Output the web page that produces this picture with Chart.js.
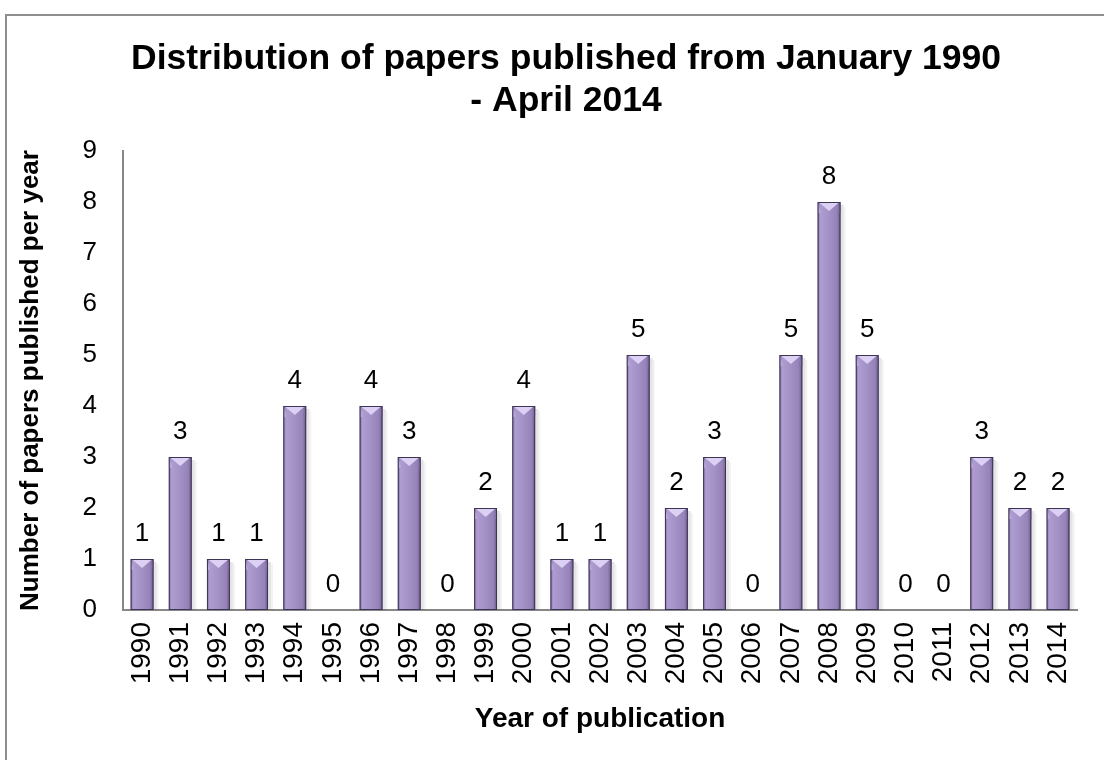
<!DOCTYPE html>
<html>
<head>
<meta charset="utf-8">
<title>Papers per year</title>
<script src="https://cdn.jsdelivr.net/npm/chart.js@4.4.1/dist/chart.umd.min.js"></script>
<style>
  html, body { margin: 0; padding: 0; background: #fff; }
  #wrap { width: 1104px; height: 760px; position: relative; }
</style>
</head>
<body>
<div id="wrap"><canvas id="chart" width="1104" height="760"></canvas></div>
<script>
// --- Data ---
const years = ['1990','1991','1992','1993','1994','1995','1996','1997','1998','1999',
  '2000','2001','2002','2003','2004','2005','2006','2007','2008','2009',
  '2010','2011','2012','2013','2014'];
const papers = [1, 3, 1, 1, 4, 0, 4, 3, 0, 2, 4, 1, 1, 5, 2, 3, 0, 5, 8, 5, 0, 0, 3, 2, 2];
const titleLines = ['Distribution of papers published from January 1990', '- April 2014'];
const yTitle = 'Number of papers published per year';
const xTitle = 'Year of publication';

const FONT = 'Arial, "Liberation Sans", sans-serif';
const AXIS_GREY = '#878787';

// frame around the whole chart (runs off the right and bottom edge) + the two-line title
const framePlugin = {
  id: 'frame',
  beforeDraw(chart) {
    const ctx = chart.ctx;
    ctx.save();
    ctx.strokeStyle = '#8e8e8e';
    ctx.lineWidth = 2;
    ctx.strokeRect(6, 15, 1200, 900);

    ctx.fillStyle = '#000';
    ctx.font = 'bold 35.5px ' + FONT;
    ctx.textAlign = 'center';
    ctx.textBaseline = 'alphabetic';
    titleLines.forEach((line, i) => ctx.fillText(line, 566, 69 + i * 42));
    ctx.restore();
  }
};

// bevelled purple bars + value labels on top
const bevelBars = {
  id: 'bevelBars',
  afterDatasetsDraw(chart) {
    const ctx = chart.ctx;
    const meta = chart.getDatasetMeta(0);
    meta.data.forEach((bar, i) => {
      const { x, y, base, width } = bar.getProps(['x', 'y', 'base', 'width'], true);
      const l = x - width / 2, r = x + width / 2;
      ctx.save();
      if (papers[i] > 0) {
        // soft shadow to the right
        ctx.fillStyle = 'rgba(0,0,0,0.10)';
        ctx.fillRect(r, y + 3, 3, base - y - 3);
        ctx.fillStyle = 'rgba(0,0,0,0.05)';
        ctx.fillRect(r + 3, y + 5, 2, base - y - 5);

        const g = ctx.createLinearGradient(l, 0, r, 0);
        g.addColorStop(0, '#7f6ea3');
        g.addColorStop(0.12, '#ae9dd0');
        g.addColorStop(0.5, '#a391c6');
        g.addColorStop(0.85, '#9482b8');
        g.addColorStop(1, '#665782');
        ctx.fillStyle = g;
        ctx.fillRect(l, y, width, base - y);

        // top bevel: light wedge pointing down
        const bev = Math.min(9, (base - y) / 2);
        ctx.fillStyle = '#b8a8da';
        ctx.beginPath();
        ctx.moveTo(l, y); ctx.lineTo(l + 3, y + bev); ctx.lineTo(l + 3, y + bev + 2); ctx.lineTo(l, y + bev + 2);
        ctx.closePath(); ctx.fill();
        ctx.fillStyle = '#8574a8';
        ctx.beginPath();
        ctx.moveTo(r, y); ctx.lineTo(r - 3, y + bev); ctx.lineTo(r - 3, y + bev + 2); ctx.lineTo(r, y + bev + 2);
        ctx.closePath(); ctx.fill();
        ctx.fillStyle = '#dcd0f4';
        ctx.beginPath();
        ctx.moveTo(l + 1, y); ctx.lineTo(r - 1, y); ctx.lineTo(x, y + bev);
        ctx.closePath(); ctx.fill();

        ctx.strokeStyle = '#3e3454';
        ctx.lineWidth = 1;
        ctx.strokeRect(l + 0.5, y + 0.5, width - 1, base - y - 1);
      }
      ctx.fillStyle = '#000';
      ctx.font = '26px ' + FONT;
      ctx.textAlign = 'center';
      ctx.textBaseline = 'alphabetic';
      ctx.fillText(String(papers[i]), x, y - 18);
      ctx.restore();
    });
  }
};

new Chart(document.getElementById('chart'), {
  type: 'bar',
  data: {
    labels: years,
    datasets: [{
      data: papers,
      backgroundColor: 'rgba(0,0,0,0)',
      borderWidth: 0,
      barPercentage: 0.6,
      categoryPercentage: 1.0
    }]
  },
  options: {
    responsive: false,
    animation: false,
    events: [],
    layout: { padding: { top: 151, right: 18, bottom: 0, left: 0 } },
    plugins: {
      legend: { display: false },
      tooltip: { enabled: false },
      title: { display: false }
    },
    scales: {
      x: {
        grid: { display: false, drawTicks: false },
        border: { display: true, color: AXIS_GREY, width: 2 },
        ticks: {
          color: '#000',
          font: { family: FONT, size: 28 },
          minRotation: 90, maxRotation: 90,
          autoSkip: false,
          padding: 12
        },
        title: {
          display: true,
          text: xTitle,
          color: '#000',
          font: { family: FONT, size: 28, weight: 'bold' },
          padding: { top: 0, bottom: 24 }
        },
        afterFit(scale) { scale.height = 150; }
      },
      y: {
        min: 0, max: 9,
        grid: { display: false, drawTicks: false },
        border: { display: true, color: AXIS_GREY, width: 2 },
        ticks: {
          stepSize: 1,
          color: '#000',
          font: { family: FONT, size: 26 },
          padding: 26
        },
        title: {
          display: true,
          text: yTitle,
          color: '#000',
          font: { family: FONT, size: 26, weight: 'bold' },
          padding: { top: 15, bottom: 0 }
        },
        afterFit(scale) { scale.width = 123; }
      }
    }
  },
  plugins: [framePlugin, bevelBars]
});
</script>
</body>
</html>
